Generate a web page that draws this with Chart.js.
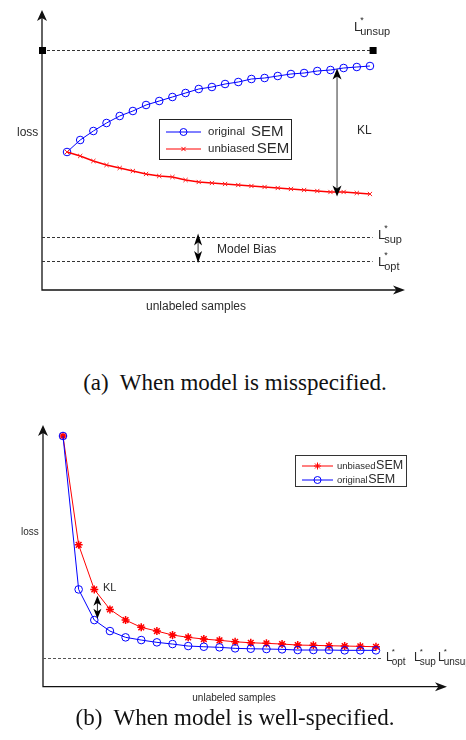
<!DOCTYPE html>
<html>
<head>
<meta charset="utf-8">
<script src="https://cdn.jsdelivr.net/npm/chart.js@4.4.1/dist/chart.umd.min.js"></script>
<style>
  body { margin: 0; width: 466px; height: 740px; background: #fff; position: relative; overflow: hidden; }
  canvas { position: absolute; left: 0; }
  .cap { position: absolute; left: 0; width: 470px; text-align: center; font-family: "Liberation Serif", serif; font-size: 23px; color: #111; white-space: pre; }
</style>
</head>
<body>
<canvas id="chartA" width="466" height="320" style="top:0"></canvas>
<div class="cap" style="top:370px">(a)  When model is misspecified.</div>
<canvas id="chartB" width="466" height="300" style="top:410px"></canvas>
<div class="cap" style="top:705px">(b)  When model is well-specified.</div>
<script>
// (a) misspecified model
const samplesA = [1, 2, 3, 4, 5, 6, 7, 8, 9, 10, 11, 12, 13, 14, 15, 16, 17, 18, 19, 20, 21, 22, 23, 24];
const originalA = [13.8, 15.0, 15.9, 16.7, 17.4, 17.9, 18.5, 18.9, 19.3, 19.7, 20.1, 20.3, 20.6, 20.8, 21.1, 21.2, 21.4, 21.6, 21.7, 21.9, 22.0, 22.2, 22.3, 22.4];
const unbiasedA = [13.8, 13.4, 12.9, 12.5, 12.2, 11.9, 11.6, 11.4, 11.3, 11.0, 10.8, 10.7, 10.6, 10.5, 10.4, 10.3, 10.2, 10.1, 10.0, 9.9, 9.8, 9.8, 9.7, 9.6];
const levelsA = [24.0, 5.35, 2.9];   // L*unsup, L*sup, L*opt

// (b) well-specified model
const samplesB = [1, 2, 3, 4, 5, 6, 7, 8, 9, 10, 11, 12, 13, 14, 15, 16, 17, 18, 19, 20, 21];
const unbiasedB = [25.1, 14.2, 9.74, 7.74, 6.67, 5.94, 5.57, 5.17, 4.94, 4.77, 4.64, 4.5, 4.4, 4.34, 4.27, 4.17, 4.14, 4.1, 4.07, 4.04, 4.0];
const originalB = [25.1, 9.74, 6.67, 5.57, 4.94, 4.67, 4.44, 4.27, 4.07, 4.0, 3.94, 3.84, 3.8, 3.77, 3.74, 3.67, 3.67, 3.67, 3.64, 3.64, 3.64];
const levelB = 2.9;  // L*opt = L*sup = L*unsup

const sans = '"Liberation Sans", Arial, sans-serif';
const ink = '#2a2a2a';

function toPoints(xs, ys) {
    return xs.map((v, i) => ({ x: v, y: ys[i] }));
}

function head(ctx, x, y, angle, len, half) {
    ctx.save();
    ctx.translate(x, y);
    ctx.rotate(angle);
    ctx.beginPath();
    ctx.moveTo(0, 0);
    ctx.lineTo(-len, -half);
    ctx.lineTo(-len * 0.72, 0);
    ctx.lineTo(-len, half);
    ctx.closePath();
    ctx.fill();
    ctx.restore();
}

function axes(ctx, a) {
    ctx.strokeStyle = '#111';
    ctx.fillStyle = '#111';
    ctx.lineWidth = 1.3;
    ctx.beginPath();
    ctx.moveTo(a.left, a.top + 4);
    ctx.lineTo(a.left, a.bottom);
    ctx.lineTo(a.right - 4, a.bottom);
    ctx.stroke();
    head(ctx, a.left, a.top, -Math.PI / 2, 11, 5);
    head(ctx, a.right, a.bottom, 0, 12, 4.5);
}

function vArrow(ctx, x, y1, y2, len, half) {
    ctx.strokeStyle = '#333';
    ctx.fillStyle = '#000';
    ctx.lineWidth = 1;
    ctx.beginPath();
    ctx.moveTo(x, y1 + 4);
    ctx.lineTo(x, y2 - 4);
    ctx.stroke();
    head(ctx, x, y1, -Math.PI / 2, len, half);
    head(ctx, x, y2, Math.PI / 2, len, half);
}

function lbl(ctx, x, y, sub, big, small) {
    ctx.fillStyle = ink;
    ctx.textBaseline = 'alphabetic';
    ctx.textAlign = 'left';
    ctx.font = big + 'px ' + sans;
    ctx.fillText('L', x, y);
    const w = ctx.measureText('L').width;
    ctx.font = (small - 2) + 'px ' + sans;
    ctx.fillText('*', x + w - 1, y - big * 0.62);
    ctx.font = small + 'px ' + sans;
    ctx.fillText(sub, x + w - 1, y + small * 0.4);
}

function text(ctx, s, x, y, size, align) {
    ctx.fillStyle = ink;
    ctx.font = size + 'px ' + sans;
    ctx.textAlign = align || 'left';
    ctx.textBaseline = 'middle';
    ctx.fillText(s, x, y);
}

// one legend entry: line + marker, small word then a bigger "SEM"
function legendRow(ctx, x, y, color, marker, len, textOff, small, big, smallSize, bigSize, gap) {
    ctx.strokeStyle = color;
    ctx.lineWidth = 1;
    ctx.beginPath();
    ctx.moveTo(x, y);
    ctx.lineTo(x + len, y);
    ctx.stroke();
    ctx.fillStyle = 'rgba(0,0,0,0)';
    Chart.helpers.drawPoint(ctx, { pointStyle: marker, radius: marker === 'crossRot' ? 3 : 3.5, borderWidth: marker === 'star' ? 1.5 : 1 }, x + len / 2, y);
    ctx.fillStyle = ink;
    ctx.textBaseline = 'middle';
    ctx.textAlign = 'left';
    ctx.font = smallSize + 'px ' + sans;
    ctx.fillText(small, x + textOff, y);
    const w = ctx.measureText(small).width;
    ctx.font = bigSize + 'px ' + sans;
    ctx.fillText(big, x + textOff + w + gap, y);
}

const decorA = {
    id: 'decorA',
    beforeDatasetsDraw(chart) {
        const { ctx, chartArea: a, scales: { x, y } } = chart;
        ctx.save();
        axes(ctx, a);
        const xEnd = x.getPixelForValue(24.2);
        ctx.strokeStyle = '#333';
        ctx.lineWidth = 1;
        ctx.setLineDash([3, 2]);
        levelsA.forEach(v => {
            const py = Math.round(y.getPixelForValue(v)) + 0.5;
            ctx.beginPath();
            ctx.moveTo(a.left, py);
            ctx.lineTo(xEnd, py);
            ctx.stroke();
        });
        ctx.setLineDash([]);
        ctx.fillStyle = '#000';
        const pu = y.getPixelForValue(levelsA[0]);
        ctx.fillRect(a.left - 3, pu - 3, 7, 7);
        ctx.fillRect(xEnd - 3, pu - 3, 7, 7);
        ctx.restore();
    },
    afterDatasetsDraw(chart) {
        const { ctx, scales: { x, y } } = chart;
        ctx.save();
        // KL gap between the two curves
        const kx = x.getPixelForValue(21.5);
        vArrow(ctx, kx, y.getPixelForValue(22.15), y.getPixelForValue(9.35), 11, 4.5);
        // model bias between L*sup and L*opt
        vArrow(ctx, x.getPixelForValue(10.95), y.getPixelForValue(levelsA[1]) - 3, y.getPixelForValue(levelsA[2]) + 2, 12, 4);
        text(ctx, 'KL', 357, 131, 12);
        text(ctx, 'loss', 17, 133, 12);
        text(ctx, 'Model Bias', 217, 250, 12);
        text(ctx, 'unlabeled samples', 196, 307, 12, 'center');
        lbl(ctx, 354, 31, 'unsup', 13, 11);
        lbl(ctx, 378, 239, 'sup', 13, 11);
        lbl(ctx, 378, 266, 'opt', 13, 11);
        // legend
        ctx.fillStyle = '#fff';
        ctx.fillRect(159, 119, 133, 41);
        ctx.strokeStyle = '#222';
        ctx.lineWidth = 1;
        ctx.strokeRect(159.5, 119.5, 132, 40);
        legendRow(ctx, 166, 132, '#0000ff', 'circle', 35, 42, 'original', 'SEM', 11.5, 15, 6);
        legendRow(ctx, 166, 149, '#ff0000', 'crossRot', 35, 42, 'unbiased', 'SEM', 11.5, 15, 2);
        ctx.restore();
    }
};

const decorB = {
    id: 'decorB',
    beforeDatasetsDraw(chart) {
        const { ctx, chartArea: a, scales: { x, y } } = chart;
        ctx.save();
        axes(ctx, a);
        ctx.strokeStyle = '#555';
        ctx.lineWidth = 1;
        ctx.setLineDash([3, 2]);
        const py = Math.round(y.getPixelForValue(levelB)) + 0.5;
        ctx.beginPath();
        ctx.moveTo(a.left, py);
        ctx.lineTo(x.getPixelForValue(21.4), py);
        ctx.stroke();
        ctx.setLineDash([]);
        ctx.restore();
    },
    afterDatasetsDraw(chart) {
        const { ctx, scales: { x, y } } = chart;
        ctx.save();
        vArrow(ctx, x.getPixelForValue(3.2), y.getPixelForValue(9.1), y.getPixelForValue(6.8), 10, 4);
        text(ctx, 'KL', 103, 178, 11);
        text(ctx, 'loss', 21, 122, 10);
        text(ctx, 'unlabeled samples', 234, 288, 10, 'center');
        lbl(ctx, 386, 251, 'opt', 12, 10);
        lbl(ctx, 414, 251, 'sup', 12, 10);
        lbl(ctx, 438, 251, 'unsup', 12, 10);
        ctx.fillStyle = '#fff';
        ctx.fillRect(295, 45, 112, 32);
        ctx.strokeStyle = '#333';
        ctx.lineWidth = 1;
        ctx.strokeRect(295.5, 45.5, 111, 31);
        legendRow(ctx, 302, 56, '#ff0000', 'star', 31, 35, 'unbiased', 'SEM', 9.5, 12.5, 0.5);
        legendRow(ctx, 302, 70, '#0000ff', 'circle', 31, 35, 'original', 'SEM', 9.5, 12.5, 0.5);
        ctx.restore();
    }
};

const common = {
    responsive: false,
    animation: false,
    plugins: { legend: { display: false }, tooltip: { enabled: false } },
    elements: { line: { tension: 0 } }
};

new Chart(document.getElementById('chartA'), {
    type: 'line',
    data: {
        datasets: [{
            label: 'unbiased SEM',
            data: toPoints(samplesA, unbiasedA),
            borderColor: '#ff0000',
            borderWidth: 1.4,
            pointStyle: 'crossRot',
            pointRadius: 3,
            pointBorderColor: '#ff2020',
            pointBorderWidth: 1
        }, {
            label: 'original SEM',
            data: toPoints(samplesA, originalA),
            borderColor: '#0000ff',
            borderWidth: 1,
            pointStyle: 'circle',
            pointRadius: 3.8,
            pointBorderColor: '#0000ff',
            pointBackgroundColor: 'rgba(0,0,0,0)',
            pointBorderWidth: 1
        }]
    },
    options: {
        ...common,
        layout: { padding: { left: 42, right: 61, top: 10, bottom: 30 } },
        scales: {
            x: { type: 'linear', display: false, min: -0.9, max: 26.66 },
            y: { type: 'linear', display: false, min: 0, max: 28 }
        }
    },
    plugins: [decorA]
});

new Chart(document.getElementById('chartB'), {
    type: 'line',
    data: {
        datasets: [{
            label: 'original SEM',
            data: toPoints(samplesB, originalB),
            borderColor: '#0000ff',
            borderWidth: 1,
            pointStyle: 'circle',
            pointRadius: 3.8,
            pointBorderColor: '#0000ff',
            pointBackgroundColor: 'rgba(0,0,0,0)',
            pointBorderWidth: 1
        }, {
            label: 'unbiased SEM',
            data: toPoints(samplesB, unbiasedB),
            borderColor: '#ff0000',
            borderWidth: 1,
            pointStyle: 'star',
            pointRadius: 4,
            pointBorderColor: '#ff0000',
            pointBorderWidth: 1.5
        }]
    },
    options: {
        ...common,
        layout: { padding: { left: 43, right: 19, top: 15, bottom: 23.3 } },
        scales: {
            x: { type: 'linear', display: false, min: -0.278, max: 25.54 },
            y: { type: 'linear', display: false, min: 0, max: 26.2 }
        }
    },
    plugins: [decorB]
});
</script>
</body>
</html>
